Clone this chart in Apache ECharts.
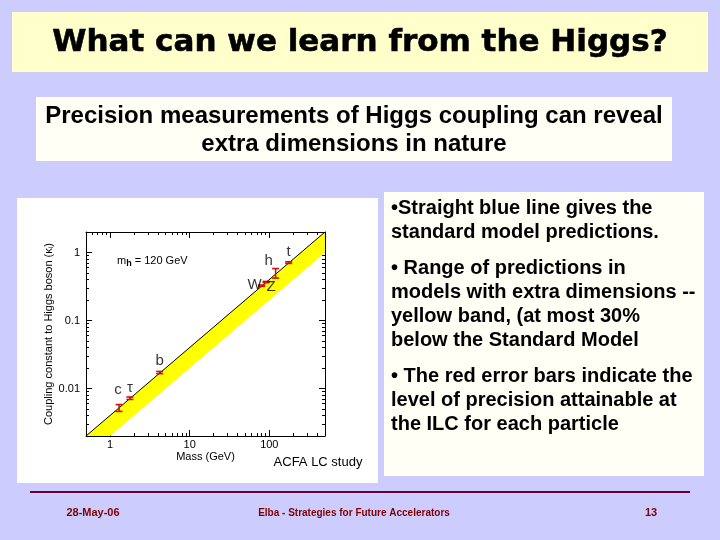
<!DOCTYPE html>
<html>
<head>
<meta charset="utf-8">
<script src="https://cdn.jsdelivr.net/npm/echarts@6/dist/echarts.min.js"></script>
<style>
html,body{margin:0;padding:0;background:#CCCCFF;}
#chart{width:720px;height:540px;}
</style>
</head>
<body>
<div id="chart"></div>
<script>
// ---- data ----
const particles = ['c', 'τ', 'b', 'W', 'Z', 'h', 't'];
const mass = [1.3, 1.78, 4.2, 80, 91, 120, 175];
const couplingLow = [0.0046, 0.0069, 0.0165, 0.318, 0.36, 0.42, 0.69];
const couplingHigh = [0.0058, 0.0075, 0.0178, 0.332, 0.375, 0.58, 0.73];
const smMass = [0.5, 500];
const smCoupling = [0.002, 2.0];
const bandLower = [0.001, 1.0];
const xTickLabels = ['1', '10', '100'];
const yTickLabels = ['0.01', '0.1', '1'];

const titleText = 'What can we learn from the Higgs?';
const subtitleLines = ['Precision measurements of Higgs coupling can reveal', 'extra dimensions in nature'];
const bulletLines = [
  '•Straight blue line gives the',
  'standard model predictions.',
  '• Range of predictions in',
  'models with extra dimensions --',
  'yellow band, (at most 30%',
  'below the Standard Model',
  '• The red error bars indicate the',
  'level of precision attainable at',
  'the ILC for each particle'
];
const footer = ['28-May-06', 'Elba - Strategies for Future Accelerators', '13'];

// ---- style ----
const labelOffsets = [[-1, -18], [0, -10], [0, -12], [-7, -1], [5, 5], [-7, -12], [0, -11]];
const bulletY = [208, 232, 268, 292, 316, 340, 376, 400, 424];

const chart = echarts.init(document.getElementById('chart'), null, {renderer: 'canvas'});

function labelFmt(v) {
  const s = String(+v.toPrecision(6));
  return (xTickLabels.indexOf(s) >= 0 || yTickLabels.indexOf(s) >= 0) ? s : '';
}

const logAxisBase = {
  type: 'log', logBase: 10,
  axisLine: {show: true, lineStyle: {color: '#000', width: 1}},
  axisTick: {show: true, inside: true, length: 6, lineStyle: {color: '#000'}},
  minorTick: {show: true, splitNumber: 9, length: 3, lineStyle: {color: '#000'}},
  splitLine: {show: false},
  minorSplitLine: {show: false}
};

const FONT = '"Liberation Sans", Arial, sans-serif';
const graphics = [
  {type: 'rect', shape: {x: 12, y: 12, width: 696, height: 60}, style: {fill: '#FFFFCC'}, z: -10},
  {type: 'text', x: 360, y: 43, style: {text: titleText, font: 'bold 31px "DejaVu Sans", ' + FONT, fill: '#000', stroke: '#000', lineWidth: 0.6, textAlign: 'center', textVerticalAlign: 'middle'}, z: -9},
  {type: 'rect', shape: {x: 36, y: 97, width: 636, height: 64}, style: {fill: '#FFFFF5'}, z: -10},
  {type: 'text', x: 354, y: 116, style: {text: subtitleLines[0], font: 'bold 24px ' + FONT, fill: '#000', textAlign: 'center', textVerticalAlign: 'middle'}, z: -9},
  {type: 'text', x: 354, y: 144, style: {text: subtitleLines[1], font: 'bold 24px ' + FONT, fill: '#000', textAlign: 'center', textVerticalAlign: 'middle'}, z: -9},
  {type: 'rect', shape: {x: 384, y: 192, width: 320, height: 284}, style: {fill: '#FFFFF5'}, z: -10},
  {type: 'rect', shape: {x: 17, y: 198, width: 361, height: 285}, style: {fill: '#FFFFFF'}, z: -10},
  {type: 'line', shape: {x1: 30, y1: 492, x2: 690, y2: 492}, style: {stroke: '#660033', lineWidth: 2}, z: -9},
  {type: 'text', x: 93, y: 513, style: {text: footer[0], font: 'bold 11px ' + FONT, fill: '#800000', textAlign: 'center', textVerticalAlign: 'middle'}, z: -9},
  {type: 'text', x: 354, y: 513, style: {text: footer[1], font: 'bold 10px ' + FONT, fill: '#800000', textAlign: 'center', textVerticalAlign: 'middle'}, z: -9},
  {type: 'text', x: 651, y: 513, style: {text: footer[2], font: 'bold 11px ' + FONT, fill: '#800000', textAlign: 'center', textVerticalAlign: 'middle'}, z: -9},
  {type: 'text', x: 318, y: 462, style: {text: 'ACFA LC study', font: '13px ' + FONT, fill: '#000', textAlign: 'center', textVerticalAlign: 'middle'}, z: 10},
  {type: 'text', x: 117, y: 261, style: {
    text: '{m|m}{sub|h}{m| = 120 GeV}',
    rich: {
      m: {font: '11px ' + FONT, fill: '#000'},
      sub: {font: 'bold 9px ' + FONT, fill: '#000', padding: [5, 0, 0, 0]}
    },
    textVerticalAlign: 'middle'
  }, z: 10}
];
bulletLines.forEach((t, i) => {
  graphics.push({type: 'text', x: 391, y: bulletY[i], style: {text: t, font: 'bold 20px ' + FONT, fill: '#000', textVerticalAlign: 'middle'}, z: -9});
});

const option = {
  backgroundColor: '#CCCCFF',
  animation: false,
  graphic: {elements: graphics},
  grid: {left: 86, top: 232, width: 239, height: 204, show: false},
  xAxis: [
    Object.assign({}, logAxisBase, {
      min: 0.5, max: 500, position: 'bottom',
      name: 'Mass (GeV)', nameLocation: 'middle', nameGap: 15,
      nameTextStyle: {fontSize: 11, color: '#000', fontFamily: 'Liberation Sans'},
      axisLabel: {fontSize: 11, color: '#000', margin: 3, fontFamily: 'Liberation Sans', formatter: labelFmt}
    }),
    Object.assign({}, logAxisBase, {
      min: 0.5, max: 500, position: 'top', axisLabel: {show: false}
    })
  ],
  yAxis: [
    Object.assign({}, logAxisBase, {
      min: 0.002, max: 2, position: 'left',
      name: '{n|Coupling constant to Higgs boson (κ}{s|i}{n|)}', nameLocation: 'middle', nameGap: 31,
      nameTextStyle: {color: '#000', rich: {
        n: {fontSize: 11, color: '#000', fontFamily: 'Liberation Sans'},
        s: {fontSize: 7, color: '#000', fontFamily: 'Liberation Sans', padding: [4, 0, 0, 0]}
      }},
      axisLabel: {fontSize: 11, color: '#000', margin: 6, fontFamily: 'Liberation Sans', formatter: labelFmt}
    }),
    Object.assign({}, logAxisBase, {
      min: 0.002, max: 2, position: 'right', axisLabel: {show: false}
    })
  ],
  series: [
    {
      type: 'custom', name: 'band', xAxisIndex: 0, yAxisIndex: 0, clip: true, z: 1,
      data: [[smMass[0], smCoupling[0], bandLower[0]]],
      renderItem: function (params, api) {
        const upper = smMass.map((m, i) => api.coord([m, smCoupling[i]]));
        const lower = smMass.map((m, i) => api.coord([m, bandLower[i]])).reverse();
        return {type: 'polygon', shape: {points: upper.concat(lower)}, style: {fill: '#FFFF00', stroke: null}};
      }
    },
    {
      type: 'line', name: 'SM', xAxisIndex: 0, yAxisIndex: 0, z: 3,
      data: smMass.map((m, i) => [m, smCoupling[i]]),
      showSymbol: false, symbol: 'none', clip: true,
      lineStyle: {color: '#000', width: 1}
    },
    {
      type: 'custom', name: 'errors', xAxisIndex: 0, yAxisIndex: 0, z: 4,
      data: mass.map((m, i) => [m, couplingLow[i], couplingHigh[i]]),
      renderItem: function (params, api) {
        const x = api.value(0);
        const p1 = api.coord([x, api.value(1)]);
        const p2 = api.coord([x, api.value(2)]);
        const w = 3.5;
        const st = {stroke: '#CC1111', lineWidth: 1.6};
        return {type: 'group', children: [
          {type: 'line', shape: {x1: p1[0], y1: p1[1], x2: p2[0], y2: p2[1]}, style: st},
          {type: 'line', shape: {x1: p1[0] - w, y1: p1[1], x2: p1[0] + w, y2: p1[1]}, style: st},
          {type: 'line', shape: {x1: p2[0] - w, y1: p2[1], x2: p2[0] + w, y2: p2[1]}, style: st}
        ]};
      }
    },
    {
      type: 'scatter', name: 'labels', xAxisIndex: 0, yAxisIndex: 0, z: 5,
      symbolSize: 0, silent: true,
      data: mass.map((m, i) => ({
        value: [m, Math.sqrt(couplingLow[i] * couplingHigh[i])],
        name: particles[i],
        label: {offset: labelOffsets[i]}
      })),
      label: {show: true, position: 'inside', formatter: '{b}', fontSize: 15, color: '#000', fontFamily: 'Liberation Sans'}
    }
  ]
};
chart.setOption(option);
</script>
</body>
</html>
